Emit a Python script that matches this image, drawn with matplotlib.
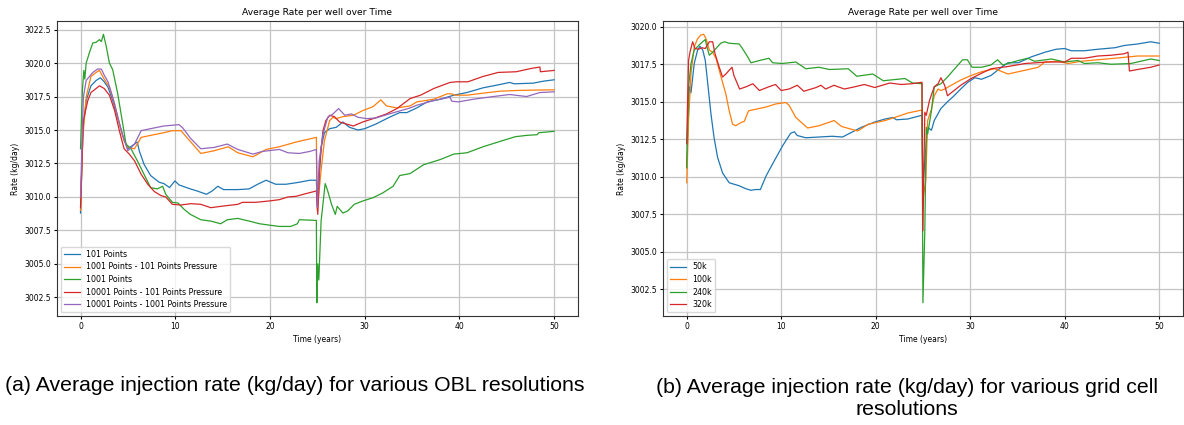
"""
Average injection rate per well over time: OBL resolution study (a) and
grid cell resolution study (b), side by side with captions below.
"""
import matplotlib
matplotlib.use("Agg")
import matplotlib.pyplot as plt

# --- (a) OBL resolutions ---------------------------------------------------
OBL_LABELS = ["101 Points", "1001 Points - 101 Points Pressure", "1001 Points",
              "10001 Points - 101 Points Pressure", "10001 Points - 1001 Points Pressure"]

P101_T = [0, 0.25, 0.6, 1.1, 1.65, 2.1, 2.5, 2.9, 3.4, 3.9, 4.45, 5.0, 5.5, 6.0, 6.2,
          6.7, 7.4, 8.3, 8.8, 9.4, 9.96, 10.4, 11.6, 12.3, 13.3, 13.9, 14.5, 15.1, 16.6,
          17.8, 18.7, 19.6, 20.6, 21.7, 23.1, 24.2, 24.9, 25.0, 25.4, 25.75, 26.3, 27.0,
          27.7, 28.4, 29.3, 30.0, 31.2, 32.6, 33.7, 34.45, 35.5, 36.6, 38.0, 39.4, 40.8,
          42.5, 44.3, 45.3, 45.8, 47.8, 48.9, 50.0]
P101_Y = [3008.8, 3015.0, 3017.2, 3018.3, 3018.7, 3018.9, 3018.6, 3018.2, 3017.2, 3015.95,
          3014.6, 3013.6, 3013.85, 3014.1, 3013.45, 3012.45, 3011.6, 3011.1, 3011.0, 3010.7,
          3011.2, 3010.9, 3010.6, 3010.45, 3010.2, 3010.45, 3010.8, 3010.55, 3010.55, 3010.6,
          3010.95, 3011.25, 3010.95, 3010.95, 3011.1, 3011.25, 3011.25, 3009.3, 3013.7, 3014.8,
          3015.1, 3015.2, 3015.6, 3015.2, 3015.0, 3015.1, 3015.45, 3015.95, 3016.3, 3016.3,
          3016.65, 3017.1, 3017.3, 3017.6, 3017.8, 3018.15, 3018.4, 3018.55, 3018.45, 3018.5,
          3018.65, 3018.75]

P1001_101_T = [0, 0.25, 0.6, 1.1, 1.65, 2.0, 2.5, 3.05, 3.6, 4.1, 4.6, 5.0, 5.7, 6.4, 7.4,
               8.8, 9.7, 10.6, 11.65, 12.7, 14.1, 15.6, 16.6, 18.2, 19.6, 21.0, 22.75, 24.9,
               25.0, 25.4, 25.75, 26.3, 26.65, 27.0, 27.7, 28.8, 29.8, 30.9, 31.7, 32.3, 33.4,
               34.8, 35.5, 37.3, 38.7, 39.2, 39.5, 40.8, 42.5, 44.3, 46.0, 47.8, 50.0]
P1001_101_Y = [3009.0, 3014.5, 3017.45, 3019.0, 3019.3, 3019.45, 3018.8, 3018.2, 3016.95,
               3015.45, 3014.2, 3013.7, 3013.6, 3014.45, 3014.6, 3014.8, 3014.95, 3014.95,
               3014.1, 3013.25, 3013.45, 3013.75, 3013.3, 3013.0, 3013.55, 3013.75, 3014.1,
               3014.45, 3009.0, 3012.0, 3014.2, 3015.7, 3015.95, 3015.85, 3016.0, 3016.1,
               3016.45, 3016.75, 3017.25, 3016.8, 3016.65, 3016.8, 3017.1, 3017.3, 3017.7,
               3017.7, 3017.6, 3017.6, 3017.75, 3017.9, 3017.95, 3017.98, 3018.0]

P1001_T = [0, 0.2, 0.35, 0.45, 0.6, 0.95, 1.3, 1.65, 2.0, 2.2, 2.42, 2.7, 3.05, 3.4, 3.93,
           4.46, 4.8, 5.33, 6.0, 6.7, 7.4, 8.1, 8.67, 9.0, 9.7, 10.3, 10.9, 11.6, 12.7, 13.75,
           14.8, 15.5, 16.6, 17.8, 18.9, 19.9, 21.0, 22.2, 22.9, 23.1, 24.9, 24.95, 25.05,
           25.16, 25.4, 25.83, 26.1, 26.5, 26.9, 27.1, 27.7, 28.2, 28.9, 29.8, 30.9, 31.9,
           33.0, 33.7, 34.8, 36.2, 38.0, 39.4, 40.8, 42.5, 44.3, 45.9, 47.1, 48.2, 48.4, 50.0]
P1001_Y = [3013.6, 3018.0, 3019.45, 3018.8, 3020.0, 3020.8, 3021.5, 3021.55, 3021.75, 3021.6,
           3022.15, 3021.3, 3020.0, 3019.5, 3017.7, 3015.45, 3013.95, 3013.6, 3012.7, 3011.7,
           3010.7, 3010.6, 3010.8, 3010.2, 3009.6, 3009.55, 3009.1, 3008.7, 3008.3, 3008.2,
           3008.0, 3008.3, 3008.4, 3008.2, 3008.0, 3007.9, 3007.8, 3007.8, 3008.0, 3008.3,
           3008.25, 3002.1, 3005.0, 3003.8, 3008.2, 3011.0, 3010.45, 3009.45, 3008.7, 3009.3,
           3008.8, 3008.95, 3009.45, 3009.7, 3009.95, 3010.3, 3010.8, 3011.6, 3011.75, 3012.4,
           3012.8, 3013.2, 3013.3, 3013.75, 3014.15, 3014.5, 3014.6, 3014.65, 3014.8, 3014.9]

P10001_101_T = [0, 0.3, 0.77, 1.1, 1.65, 2.0, 2.5, 3.05, 3.6, 4.1, 4.6, 5.15, 5.7, 6.4, 7.1,
                7.8, 8.5, 9.0, 9.7, 10.6, 11.65, 12.7, 13.75, 14.8, 16.6, 17.1, 18.5, 19.9,
                21.0, 21.9, 22.75, 23.8, 24.9, 25.05, 25.25, 25.6, 25.9, 26.3, 26.8, 27.35,
                28.05, 28.8, 29.8, 30.9, 32.3, 33.4, 34.8, 35.9, 37.3, 39.0, 39.7, 40.9, 42.5,
                44.1, 46.0, 47.6, 48.5, 48.55, 50.0]
P10001_101_Y = [3009.2, 3015.7, 3017.2, 3017.8, 3018.1, 3018.3, 3018.1, 3017.6, 3016.45,
                3014.95, 3013.6, 3013.2, 3012.7, 3011.7, 3010.95, 3010.4, 3010.1, 3010.0,
                3009.45, 3009.4, 3009.5, 3009.45, 3009.2, 3009.3, 3009.45, 3009.6, 3009.6,
                3009.7, 3009.8, 3010.0, 3010.05, 3010.25, 3010.45, 3008.7, 3012.45, 3014.95,
                3015.7, 3016.1, 3016.0, 3015.6, 3015.45, 3015.3, 3015.6, 3015.85, 3016.2,
                3016.6, 3017.35, 3017.6, 3018.1, 3018.55, 3018.6, 3018.6, 3019.0, 3019.3,
                3019.35, 3019.6, 3019.7, 3019.35, 3019.45]

P10001_1001_T = [0, 0.3, 0.6, 1.3, 1.8, 2.2, 2.5, 2.9, 3.4, 3.9, 4.45, 5.0, 5.7, 6.4, 7.4,
                 8.8, 10.4, 10.8, 11.65, 12.7, 14.1, 15.5, 16.6, 18.2, 19.2, 21.0, 21.9, 23.1,
                 24.2, 24.9, 25.0, 25.2, 25.6, 26.1, 26.65, 27.25, 27.9, 28.6, 29.3, 30.2,
                 31.2, 32.6, 34.8, 35.5, 37.3, 39.0, 39.2, 39.9, 41.5, 43.6, 45.3, 47.1, 48.5,
                 50.0]
P10001_1001_Y = [3010.0, 3017.45, 3018.7, 3019.3, 3019.55, 3019.55, 3019.1, 3018.6, 3017.45,
                 3016.1, 3014.6, 3013.45, 3013.95, 3014.95, 3015.1, 3015.3, 3015.4, 3015.15,
                 3014.35, 3013.6, 3013.7, 3013.95, 3013.55, 3013.2, 3013.4, 3013.55, 3013.3,
                 3013.25, 3013.4, 3013.55, 3009.2, 3012.7, 3014.7, 3015.95, 3016.2, 3016.6,
                 3016.1, 3016.2, 3015.95, 3015.85, 3015.9, 3016.2, 3016.65, 3016.85, 3017.2,
                 3017.45, 3017.15, 3017.1, 3017.3, 3017.5, 3017.65, 3017.5, 3017.8, 3017.85]

# --- (b) grid cell resolutions ---------------------------------------------
GRID_LABELS = ["50k", "100k", "240k", "320k"]

G50_T = [0, 0.28, 0.46, 0.8, 1.16, 1.4, 1.7, 1.97, 2.2, 2.57, 2.9, 3.27, 3.8, 4.5, 5.56,
         6.27, 6.8, 7.3, 7.8, 8.4, 9.26, 10.14, 11.0, 11.4, 11.7, 12.6, 14.0, 15.4, 16.5,
         17.1, 18.5, 19.9, 21.0, 21.8, 22.2, 23.4, 24.9, 25.0, 25.2, 25.5, 25.9, 26.2, 26.9,
         27.6, 28.3, 29.0, 29.75, 30.5, 31.2, 32.2, 33.3, 34.0, 35.1, 36.5, 37.9, 39.1, 40.0,
         40.7, 42.1, 43.5, 45.3, 46.3, 47.7, 49.1, 50.0]
G50_Y = [3010.6, 3016.0, 3015.6, 3017.55, 3018.45, 3018.7, 3018.45, 3017.75, 3016.4, 3014.2,
         3012.6, 3011.3, 3010.25, 3009.6, 3009.4, 3009.2, 3009.1, 3009.15, 3009.15, 3010.05,
         3011.05, 3012.05, 3012.9, 3013.0, 3012.75, 3012.6, 3012.65, 3012.7, 3012.65, 3012.85,
         3013.3, 3013.65, 3013.85, 3013.95, 3013.8, 3013.85, 3014.1, 3009.5, 3011.05, 3013.3,
         3013.1, 3013.75, 3014.55, 3015.0, 3015.4, 3015.85, 3016.3, 3016.6, 3016.5, 3016.75,
         3017.3, 3017.6, 3017.6, 3018.0, 3018.3, 3018.5, 3018.55, 3018.4, 3018.4, 3018.5,
         3018.6, 3018.75, 3018.85, 3019.0, 3018.9]

G100_T = [0, 0.2, 0.46, 0.8, 1.15, 1.5, 1.8, 2.05, 2.4, 2.75, 3.1, 3.6, 4.15, 4.5, 4.86,
          5.2, 5.7, 6.1, 6.55, 7.3, 8.4, 9.4, 10.5, 10.85, 11.55, 12.8, 14.0, 15.6, 16.4,
          18.1, 19.2, 21.0, 22.0, 23.4, 24.9, 25.0, 25.3, 25.5, 25.9, 26.2, 26.6, 26.9, 27.3,
          28.0, 29.0, 30.1, 31.2, 32.6, 34.0, 35.8, 37.2, 37.9, 39.3, 40.35, 41.75, 43.5,
          45.3, 47.7, 50.0]
G100_Y = [3009.6, 3013.75, 3016.9, 3018.65, 3019.2, 3019.45, 3019.5, 3019.2, 3018.45, 3018.3,
          3017.9, 3016.75, 3015.5, 3014.4, 3013.5, 3013.4, 3013.6, 3013.7, 3014.4, 3014.5,
          3014.65, 3014.85, 3014.95, 3014.75, 3013.95, 3013.25, 3013.4, 3013.75, 3013.35,
          3013.05, 3013.5, 3013.75, 3013.95, 3014.25, 3014.45, 3008.5, 3009.75, 3013.75,
          3014.5, 3015.4, 3015.85, 3015.75, 3015.85, 3016.1, 3016.45, 3016.75, 3017.0, 3017.2,
          3016.85, 3017.1, 3017.3, 3017.65, 3017.7, 3017.55, 3017.7, 3017.8, 3017.9, 3018.05,
          3018.05]

G240_T = [0, 0.2, 0.46, 0.8, 1.34, 1.7, 1.97, 2.15, 2.4, 2.75, 3.1, 3.6, 4.0, 4.5, 5.56,
          5.9, 6.45, 6.8, 7.7, 8.7, 9.1, 10.1, 11.55, 12.6, 14.0, 15.1, 17.1, 18.0, 19.7,
          20.8, 23.1, 23.9, 24.9, 25.0, 25.2, 25.35, 25.5, 25.9, 26.2, 26.9, 27.6, 28.5, 29.2,
          29.7, 30.2, 31.2, 32.2, 32.9, 33.45, 34.0, 35.1, 36.1, 36.8, 38.6, 40.0, 41.4, 42.1,
          43.5, 44.9, 47.0, 49.1, 50.0]
G240_Y = [3010.6, 3016.0, 3017.55, 3018.45, 3018.8, 3019.0, 3019.15, 3018.65, 3018.1, 3018.3,
          3018.55, 3018.9, 3019.0, 3018.9, 3018.85, 3018.55, 3018.0, 3017.6, 3017.75, 3017.9,
          3017.6, 3017.55, 3017.65, 3017.2, 3017.3, 3017.15, 3017.2, 3016.7, 3016.85, 3016.4,
          3016.55, 3016.25, 3016.2, 3001.6, 3006.4, 3013.3, 3012.85, 3014.4, 3016.0, 3016.2,
          3016.65, 3017.3, 3017.8, 3017.8, 3017.3, 3017.3, 3017.45, 3017.8, 3017.45, 3017.55,
          3017.75, 3017.9, 3017.7, 3017.85, 3017.65, 3017.75, 3017.55, 3017.6, 3017.5, 3017.55,
          3017.85, 3017.75]

G320_T = [0, 0.2, 0.35, 0.63, 0.88, 1.27, 1.62, 1.97, 2.4, 2.75, 3.0, 3.45, 3.8, 4.15, 4.5,
          4.8, 5.0, 5.6, 6.3, 7.0, 7.7, 8.7, 9.4, 10.0, 10.85, 11.7, 12.4, 13.7, 14.2, 14.7,
          15.6, 16.0, 16.7, 17.8, 18.8, 19.9, 21.5, 22.7, 23.8, 24.9, 25.0, 25.2, 25.35, 25.7,
          26.2, 26.6, 26.9, 27.3, 27.6, 28.3, 29.0, 30.1, 31.2, 32.2, 34.0, 35.8, 38.2, 40.0,
          40.7, 42.1, 43.5, 44.9, 46.3, 46.7, 46.85, 47.7, 49.1, 50.0]
G320_Y = [3012.2, 3017.75, 3018.3, 3019.0, 3018.55, 3018.5, 3018.6, 3018.55, 3019.0, 3019.0,
          3018.2, 3017.3, 3016.65, 3016.85, 3017.1, 3017.3, 3016.75, 3015.85, 3016.0, 3016.2,
          3015.75, 3016.0, 3016.15, 3015.75, 3015.85, 3016.1, 3015.7, 3015.95, 3016.1, 3015.85,
          3016.1, 3016.0, 3015.85, 3016.0, 3016.15, 3015.95, 3016.25, 3016.15, 3016.2, 3016.3,
          3006.4, 3014.3, 3014.1, 3015.1, 3016.0, 3016.2, 3016.6, 3016.1, 3015.4, 3015.75,
          3016.1, 3016.55, 3016.9, 3017.2, 3017.35, 3017.55, 3017.65, 3017.65, 3017.9, 3017.9,
          3018.05, 3018.1, 3018.2, 3018.3, 3017.05, 3017.15, 3017.3, 3017.45]

CAPTION_A = "(a) Average injection rate (kg/day) for various OBL resolutions"
CAPTION_B = "(b) Average injection rate (kg/day) for various grid cell\nresolutions"

plt.rcParams.update({
    "font.family": "DejaVu Sans",
    "font.size": 5.5,
    "axes.titlesize": 6.6,
    "axes.labelsize": 5.5,
    "xtick.labelsize": 5.5,
    "ytick.labelsize": 5.5,
    "legend.fontsize": 5.7,
    "axes.linewidth": 0.8,
    "axes.edgecolor": "#333333",
    "grid.color": "#c4c4c4",
    "grid.linewidth": 0.9,
    "xtick.major.size": 2.2,
    "ytick.major.size": 2.2,
    "xtick.major.pad": 2,
    "ytick.major.pad": 2,
    "lines.linewidth": 0.9,
})


def panel(ax, series, labels):
    for (t, y), lab in zip(series, labels):
        ax.plot(t, y, label=lab)
    ax.set_title("Average Rate per well over Time", pad=4)
    ax.set_xlabel("Time (years)", labelpad=3)
    ax.set_ylabel("Rate (kg/day)", labelpad=3)
    ax.grid(True)
    ax.legend(loc="lower left", handlelength=2.0, borderpad=0.4, labelspacing=0.45,
              edgecolor="#d0d0d0", fancybox=True)


def main():
    fig = plt.figure(figsize=(11.84, 4.25), dpi=100)
    ax_a = fig.add_axes([0.048, 0.256, 0.440, 0.695])
    ax_b = fig.add_axes([0.560, 0.256, 0.439, 0.695])

    panel(ax_a, [(P101_T, P101_Y), (P1001_101_T, P1001_101_Y), (P1001_T, P1001_Y),
                 (P10001_101_T, P10001_101_Y), (P10001_1001_T, P10001_1001_Y)], OBL_LABELS)
    panel(ax_b, [(G50_T, G50_Y), (G100_T, G100_Y), (G240_T, G240_Y), (G320_T, G320_Y)],
          GRID_LABELS)

    fig.text(0.249, 0.094, CAPTION_A, ha="center", va="center",
             family="Liberation Sans", fontsize=15.3)
    fig.text(0.766, 0.0635, CAPTION_B, ha="center", va="center", linespacing=1.2,
             family="Liberation Sans", fontsize=15.3)

    fig.savefig("out.png", dpi=100)
    plt.close(fig)


if __name__ == "__main__":
    main()
